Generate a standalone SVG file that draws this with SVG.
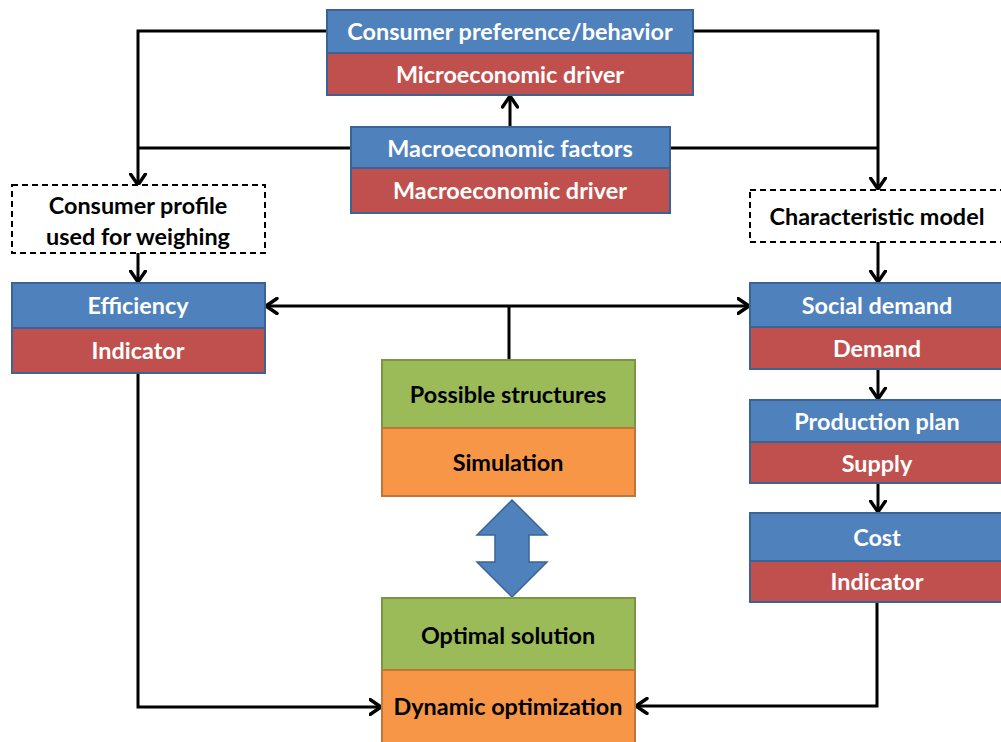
<svg xmlns="http://www.w3.org/2000/svg" width="1001" height="742" viewBox="0 0 1001 742">
  <style>
    text { font-family: Lato, "Open Sans", "Liberation Sans", sans-serif; font-weight: bold; font-size: 23.4px; text-anchor: middle; dominant-baseline: central; }
    .w { fill: #ffffff; }
    .k { fill: #000000; }
    .blue { fill: #4F81BD; stroke: #3A6396; stroke-width: 2; }
    .red { fill: #C0504D; stroke: #3A6396; stroke-width: 2; }
    .green { fill: #9BBB59; stroke: #7A9643; stroke-width: 2; }
    .orange { fill: #F79646; stroke: #C0763A; stroke-width: 2; }
    .dash { fill: #ffffff; stroke: #000000; stroke-width: 2; stroke-dasharray: 6 4; }
    .conn { fill: none; stroke: #000000; stroke-width: 3; }
  </style>
  <defs>
    <marker id="arrow" viewBox="0 0 14 18" refX="12.5" refY="9" markerWidth="14" markerHeight="18" markerUnits="userSpaceOnUse" orient="auto-start-reverse">
      <path d="M1.5,1.5 L12.5,9 L1.5,16.5" fill="none" stroke="#000000" stroke-width="3.4" stroke-linecap="round" stroke-linejoin="round"/>
    </marker>
  </defs>

  <!-- connectors -->
  <g id="connectors">
    <path class="conn" d="M327,31 H138 V185" marker-end="url(#arrow)"/>
    <path class="conn" d="M693,31 H878 V189" marker-end="url(#arrow)"/>
    <path class="conn" d="M351,148 H138"/>
    <path class="conn" d="M670,148 H878"/>
    <path class="conn" d="M510,127 V96" marker-end="url(#arrow)"/>
    <path class="conn" d="M138,253 V282" marker-end="url(#arrow)"/>
    <path class="conn" d="M878,242 V282" marker-end="url(#arrow)"/>
    <path class="conn" d="M266,306 H749" marker-start="url(#arrow)" marker-end="url(#arrow)"/>
    <path class="conn" d="M509,306 V360"/>
    <path class="conn" d="M878,369 V399" marker-end="url(#arrow)"/>
    <path class="conn" d="M878,483 V512" marker-end="url(#arrow)"/>
    <path class="conn" d="M138,373 V707 H381" marker-end="url(#arrow)"/>
    <path class="conn" d="M877,602 V706 H636" marker-end="url(#arrow)"/>
  </g>

  <g id="consumer-preference">
    <rect class="blue" x="327" y="10" width="366" height="43"/>
    <rect class="red" x="327" y="53" width="366" height="42"/>
    <text class="w" x="510" y="31">Consumer preference/behavior</text>
    <text class="w" x="510" y="74">Microeconomic driver</text>
  </g>

  <g id="macroeconomic-factors">
    <rect class="blue" x="351" y="127" width="319" height="41"/>
    <rect class="red" x="351" y="168" width="319" height="45"/>
    <text class="w" x="510" y="148">Macroeconomic factors</text>
    <text class="w" x="510" y="190">Macroeconomic driver</text>
  </g>

  <g id="consumer-profile">
    <rect class="dash" x="12" y="185" width="253" height="68"/>
    <text class="k" x="138" y="205">Consumer profile</text>
    <text class="k" x="138" y="236">used for weighing</text>
  </g>

  <g id="efficiency">
    <rect class="blue" x="12" y="283" width="253" height="45"/>
    <rect class="red" x="12" y="328" width="253" height="45"/>
    <text class="w" x="138" y="305">Efficiency</text>
    <text class="w" x="138" y="350">Indicator</text>
  </g>

  <g id="characteristic-model">
    <rect class="dash" x="750" y="190" width="262" height="52"/>
    <text class="k" x="877" y="216">Characteristic model</text>
  </g>

  <g id="social-demand">
    <rect class="blue" x="750" y="283" width="262" height="44"/>
    <rect class="red" x="750" y="327" width="262" height="42"/>
    <text class="w" x="877" y="305">Social demand</text>
    <text class="w" x="877" y="348">Demand</text>
  </g>

  <g id="production-plan">
    <rect class="blue" x="750" y="400" width="262" height="42"/>
    <rect class="red" x="750" y="442" width="262" height="41"/>
    <text class="w" x="877" y="421">Production plan</text>
    <text class="w" x="877" y="463">Supply</text>
  </g>

  <g id="cost">
    <rect class="blue" x="750" y="513" width="262" height="48"/>
    <rect class="red" x="750" y="561" width="262" height="41"/>
    <text class="w" x="877" y="537">Cost</text>
    <text class="w" x="877" y="581">Indicator</text>
  </g>

  <g id="possible-structures">
    <rect class="green" x="382" y="360" width="253" height="68"/>
    <rect class="orange" x="382" y="428" width="253" height="68"/>
    <text class="k" x="508" y="394">Possible structures</text>
    <text class="k" x="508" y="462">Simulation</text>
  </g>

  <g id="bidirectional-arrow">
    <path d="M512,500 L547,535 L529,535 L529,562 L547,562 L512,597 L477,562 L495,562 L495,535 L477,535 Z" fill="#4F81BD" stroke="#3A6396" stroke-width="1.5"/>
  </g>

  <g id="optimal-solution">
    <rect class="green" x="382" y="598" width="253" height="72"/>
    <rect class="orange" x="382" y="670" width="253" height="80"/>
    <text class="k" x="508" y="635">Optimal solution</text>
    <text class="k" x="508" y="706">Dynamic optimization</text>
  </g>
</svg>
